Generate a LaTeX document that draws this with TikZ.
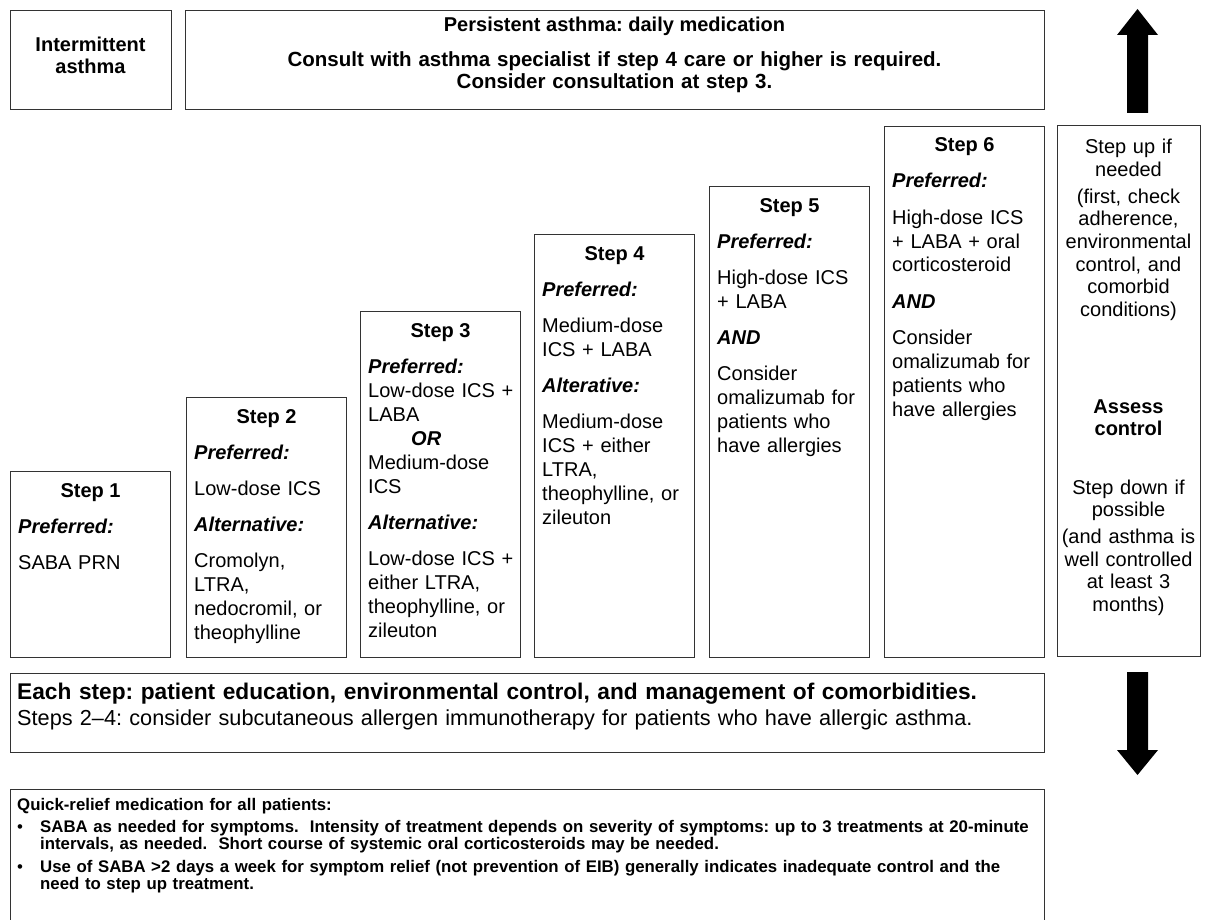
\documentclass[tikz,border=0pt]{standalone}
\usepackage{fontspec}
\setmainfont{Liberation Sans}
\usetikzlibrary{positioning}

\newcommand{\pref}[1]{\textbf{\textit{#1}}}

\begin{document}
\frenchspacing
\begin{tikzpicture}[x=1pt,y=-1pt,
	box/.style={draw=black!80,line width=1.1pt,anchor=north west,inner sep=0pt},
	body/.style={anchor=base west,align=left,text width=150pt,inner sep=0pt,font=\fontsize{20}{24}\selectfont},
	head/.style={anchor=base,align=center,inner sep=0pt,font=\bfseries\fontsize{20}{22}\selectfont},
	side/.style={anchor=base,align=center,text width=143pt,inner sep=0pt,font=\fontsize{20}{22.5}\selectfont},
	quick/.style={anchor=base west,align=left,text width=1100pt,inner sep=0pt,font=\bfseries\fontsize{16.8}{17.5}\selectfont},
	fatarrow/.style={fill=black,draw=none}]
	\useasboundingbox (0,0) rectangle (1209,920);
	% top row
	\node[box,minimum width=161pt,minimum height=99pt] (inter) at (10,10) {};
	\node[head,text width=150pt] (intertext) at (90.5,52) {Intermittent\\asthma};
	\node[box,minimum width=859pt,minimum height=99pt] (persist) at (185,10) {};
	\node[head] (persisthead) at (614.5,32) {Persistent asthma: daily medication};
	\node[head,text width=800pt,font=\bfseries\fontsize{20.5}{21.5}\selectfont] (consult) at (614.5,67) {Consult with asthma specialist if step 4 care or higher is required.\\Consider consultation at step 3.};
	% the six steps
	\foreach \n/\xl/\yt in {1/10/471,2/186/397,3/360/311,4/534/234,5/709/186,6/884/126}{
		\node[box,minimum width=160pt,minimum height=657pt-\yt pt] (s\n) at (\xl,\yt) {};
		\node[head] (h\n) at ([yshift=-26pt]s\n.north) {Step \n};
	}
	\node[body] (b1) at ([xshift=8pt,yshift=-62pt]s1.north west) {\pref{Preferred:}\\[12pt]SABA PRN};
	\node[body] (b2) at ([xshift=8pt,yshift=-62pt]s2.north west) {\pref{Preferred:}\\[12pt]Low-dose ICS\\[12pt]\pref{Alternative:}\\[12pt]Cromolyn,\\LTRA,\\nedocromil, or\\theophylline};
	\node[body] (b3) at ([xshift=8pt,yshift=-62pt]s3.north west) {\pref{Preferred:}\\Low-dose ICS +\\LABA\\\hspace*{43pt}\pref{OR}\\Medium-dose\\ICS\\[12pt]\pref{Alternative:}\\[12pt]Low-dose ICS +\\either LTRA,\\theophylline, or\\zileuton};
	\node[body] (b4) at ([xshift=8pt,yshift=-62pt]s4.north west) {\pref{Preferred:}\\[12pt]Medium-dose\\ICS + LABA\\[12pt]\pref{Alterative:}\\[12pt]Medium-dose\\ICS + either\\LTRA,\\theophylline, or\\zileuton};
	\node[body] (b5) at ([xshift=8pt,yshift=-62pt]s5.north west) {\pref{Preferred:}\\[12pt]High-dose ICS\\+ LABA\\[12pt]\pref{AND}\\[12pt]Consider\\omalizumab for\\patients who\\have allergies};
	\node[body] (b6) at ([xshift=8pt,yshift=-62pt]s6.north west) {\pref{Preferred:}\\[12pt]High-dose ICS\\+ LABA + oral\\corticosteroid\\[12pt]\pref{AND}\\[12pt]Consider\\omalizumab for\\patients who\\have allergies};
	% assess control column
	\node[box,minimum width=143pt,minimum height=531pt] (ctrl) at (1057,125) {};
	\node[side] (stepup) at (1128.5,154) {Step up if\\needed\\[4.5pt](first, check\\adherence,\\environmental\\control, and\\comorbid\\conditions)};
	\node[side,font=\bfseries\fontsize{20}{22.5}\selectfont] (assess) at (1128.5,413) {Assess\\control};
	\node[side] (stepdown) at (1128.5,494) {Step down if\\possible\\[4.5pt](and asthma is\\well controlled\\at least 3\\months)};
	\fill[fatarrow] (1127,113) -- (1127,35) -- (1117,35) -- (1137.5,9) -- (1158,35) -- (1148,35) -- (1148,113) -- cycle;
	\fill[fatarrow] (1127,672) -- (1127,750) -- (1117,750) -- (1137.5,775) -- (1158,750) -- (1148,750) -- (1148,672) -- cycle;
	% bottom boxes
	\node[box,minimum width=1034pt,minimum height=79pt] (each) at (10,673) {};
	\node[body,text width=1020pt,font=\bfseries\fontsize{22.7}{26}\selectfont] (eachline) at (17,699) {Each step: patient education, environmental control, and management of comorbidities.};
	\node[body,text width=1020pt,font=\fontsize{21.7}{24}\selectfont] (allergen) at (17,725) {Steps 2--4: consider subcutaneous allergen immunotherapy for patients who have allergic asthma.};
	\node[box,minimum width=1034pt,minimum height=140pt] (quickbox) at (10,789) {};
	\node[quick] (quicktitle) at (17,810) {Quick-relief medication for all patients:};
	\node[quick,text width=15pt,font=\fontsize{16.8}{17.5}\selectfont] (dot1) at (17,832) {\textbullet};
	\node[quick] (saba) at (40,832) {SABA as needed for symptoms.\ \ Intensity of treatment depends on severity of symptoms: up to 3 treatments at 20-minute\\intervals, as needed.\ \ Short course of systemic oral corticosteroids may be needed.};
	\node[quick,text width=15pt,font=\fontsize{16.8}{17.5}\selectfont] (dot2) at (17,872) {\textbullet};
	\node[quick] (overuse) at (40,872) {Use of SABA >2 days a week for symptom relief (not prevention of EIB) generally indicates inadequate control and the\\need to step up treatment.};
\end{tikzpicture}
\end{document}
